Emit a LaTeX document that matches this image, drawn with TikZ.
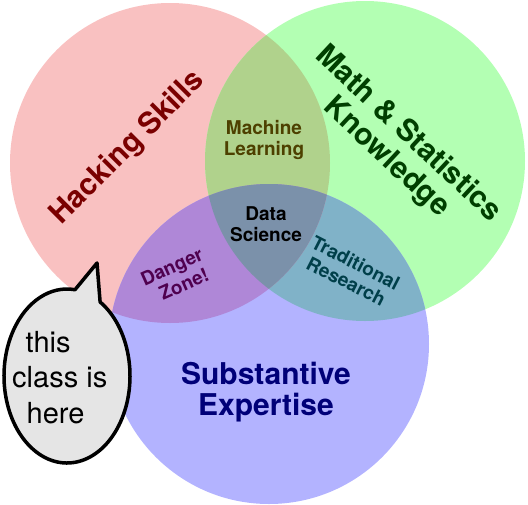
\documentclass[tikz,border=0pt]{standalone}
\usepackage{fontspec}
\setmainfont{TeX Gyre Heros}
\definecolor{hackfill}{HTML}{F9C1C1}
\definecolor{mathfill}{HTML}{B3FFB3}
\definecolor{substfill}{HTML}{B3B3FF}
\definecolor{mlfill}{HTML}{B0D28C}
\definecolor{dangerfill}{HTML}{AF87D7}
\definecolor{tradfill}{HTML}{80B2C8}
\definecolor{dsfill}{HTML}{7B91AA}
\definecolor{hacktext}{HTML}{7A0000}
\definecolor{mathtext}{HTML}{003F00}
\definecolor{substtext}{HTML}{000078}
\definecolor{mltext}{HTML}{4D4000}
\definecolor{dangertext}{HTML}{4F004F}
\definecolor{tradtext}{HTML}{003F4A}
\begin{document}
\begin{tikzpicture}[x=1pt, y=-1pt, line join=round, line cap=round,
	title/.style={font=\bfseries\fontsize{30}{32}\selectfont, align=center},
	small/.style={font=\bfseries\fontsize{19}{21}\selectfont, align=center},
	bubble/.style={draw=black, fill=black!10, line width=3.5pt}]
		\useasboundingbox (0,0) rectangle (528,504);
		\def\rad{160pt} % radius
		\coordinate (hack) at (170,163);
		\coordinate (math) at (365,161);
		\coordinate (subst) at (269,344);
		\foreach \c/\col in {hack/hackfill, math/mathfill, subst/substfill}
			\fill[\col] (\c) circle[radius=\rad];
		\begin{scope}
			\clip (math) circle[radius=\rad];
			\fill[tradfill] (subst) circle[radius=\rad];
		\end{scope}
		\begin{scope}
			\clip (hack) circle[radius=\rad];
			\fill[mlfill] (math) circle[radius=\rad];
			\fill[dangerfill] (subst) circle[radius=\rad];
			\clip (math) circle[radius=\rad];
			\fill[dsfill] (subst) circle[radius=\rad];
		\end{scope}
		\node[title, text=hacktext, rotate=45] (hacking) at (128,148) {Hacking Skills};
		\node[title, text=mathtext, rotate=-43] (mathstat) at (397,146) {Math \& Statistics\\Knowledge};
		\node[title, text=substtext, font=\bfseries\fontsize{30}{31}\selectfont] (expertise) at (266,392) {Substantive\\Expertise};
		\node[small, text=mltext] (ml) at (264,140) {Machine\\Learning};
		\node[small] (ds) at (266,224) {Data\\Science};
		\node[small, text=dangertext, rotate=24] (danger) at (176,276) {Danger\\\hspace*{8pt}Zone!};
		\node[small, text=tradtext, rotate=-27] (trad) at (351,272) {Traditional\\Research};
		% speech bubble
		\coordinate (tip) at (97,263);
		\draw[bubble] (67,376) ++(-58.3:63 and 87) arc[start angle=-58.3, end angle=277.3, x radius=63, y radius=87] -- (tip) -- cycle;
		\node[font=\fontsize{29}{35.5}\selectfont, align=left, anchor=north west, inner sep=0pt] (note) at (12,331) {\hspace*{13.5pt}this\\class is\\\hspace*{14.5pt}here};
\end{tikzpicture}
\end{document}
